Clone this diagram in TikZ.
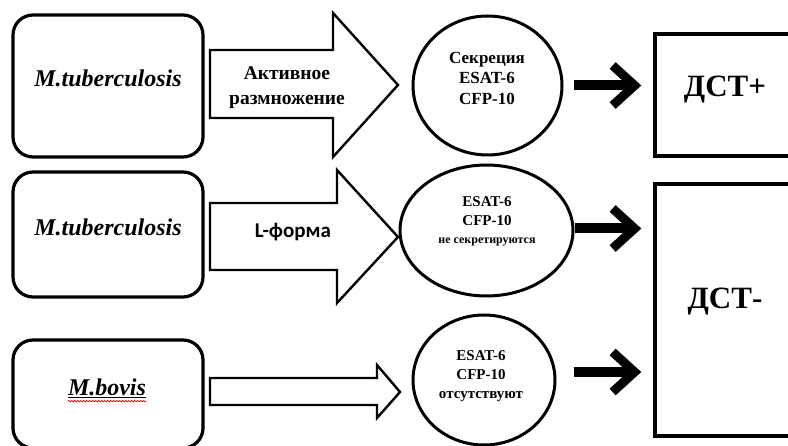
\documentclass[tikz,border=0pt]{standalone}
\usepackage{fontspec}
\setmainfont{Liberation Serif}
\newfontfamily\calib{Carlito}
\usetikzlibrary{arrows.meta,shapes.geometric,decorations.pathmorphing}
\begin{document}
\begin{tikzpicture}[x=1pt,y=-1pt,
  orgbox/.style={draw,line width=3.2pt,rounded corners=20pt,minimum width=190pt,inner sep=0pt},
  orgtext/.style={inner sep=0pt,font=\rmfamily\fontsize{24}{28}\selectfont\bfseries\itshape},
  fatarrow/.style={draw,line width=2.4pt,line join=miter,fill=white},
  arrowtext/.style={inner sep=0pt,align=center,font=\rmfamily\fontsize{19.5}{25}\selectfont\bfseries},
  antigen/.style={draw,ellipse,line width=3pt,inner sep=0pt},
  antigentext/.style={inner sep=0pt,align=center,font=\rmfamily\fontsize{15}{19}\selectfont\bfseries},
  result/.style={draw,line width=3.4pt,inner sep=0pt},
  resulttext/.style={inner sep=0pt,font=\rmfamily\fontsize{31}{36}\selectfont\bfseries},
  blk/.style={line width=10pt,-{Straight Barb[length=22pt,width=40pt,line width=9pt]}}
]
\useasboundingbox (0,0) rectangle (788,446);
\clip (0,0) rectangle (788,446);

% left column: organisms
\node[orgbox,minimum height=142pt] (b1) at (108,86) {};
\node[orgtext] (t1) at (108,78) {M.tuberculosis};
\node[orgbox,minimum height=125pt] (b2) at (108,234.5) {};
\node[orgtext] (t2) at (108,227) {M.tuberculosis};
\node[orgbox,minimum height=108pt] (b3) at (108,394) {};
\node[orgtext] (t3) at (107,388) {\underline{M.bovis}};
\draw[red,line width=0.7pt,decorate,decoration={snake,amplitude=0.7pt,segment length=3pt}]
  ([yshift=-6pt]t3.base west) -- ([yshift=-6pt]t3.base east);

% block arrows
\draw[fatarrow] (210,50) -- (333,50) -- (333,13) -- (398,85) -- (333,157) -- (333,118) -- (210,118) -- cycle;
\node[arrowtext] (a1) at (287,87.5) {Активное\\размножение};
\draw[fatarrow] (210,203) -- (337,203) -- (337,170) -- (398,237) -- (337,303) -- (337,270) -- (210,270) -- cycle;
\node[inner sep=0pt,font=\calib\fontsize{21}{25}\selectfont\bfseries] (a2) at (293,232) {L-форма};
\draw[fatarrow] (210,378) -- (377,378) -- (377,365) -- (400,392) -- (377,418) -- (377,405) -- (210,405) -- cycle;

% antigens
\node[antigen,minimum width=149pt,minimum height=139pt] (c1) at (487.5,85.5) {};
\node[antigentext,font=\rmfamily\fontsize{17}{20.5}\selectfont\bfseries] (s1) at (487,78) {Секреция\\ESAT-6\\CFP-10};
\node[antigen,minimum width=173pt,minimum height=131pt] (c2) at (486.5,230.5) {};
\node[antigentext,font=\rmfamily\fontsize{15}{18.5}\selectfont\bfseries] (s2) at (487,221.5) {ESAT-6\\CFP-10\\{\fontsize{12}{14}\selectfont не секретируются}};
\node[antigen,minimum width=142pt,minimum height=130pt] (c3) at (484,380) {};
\node[antigentext] (s3) at (481,376) {ESAT-6\\CFP-10\\отсутствуют};

% skin test results
\node[result,minimum width=165pt,minimum height=122pt] (d1) at (737.5,95) {};
\node[resulttext] (r1) at (725,90) {ДСТ+};
\node[result,minimum width=165pt,minimum height=252pt] (d2) at (737.5,310) {};
\node[resulttext] (r2) at (725,302) {ДСТ-};

% connectors to results
\draw[blk,shorten <=10pt,shorten >=12pt] (c1.east) -- (c1.east -| d1.west);
\draw[blk,shorten >=12pt] ([yshift=2pt]c2.east) -- ([yshift=2pt]c2.east -| d2.west);
\draw[blk,shorten <=17pt,shorten >=12pt] ([yshift=8pt]c3.east) -- ([yshift=8pt]c3.east -| d2.west);
\end{tikzpicture}
\end{document}
